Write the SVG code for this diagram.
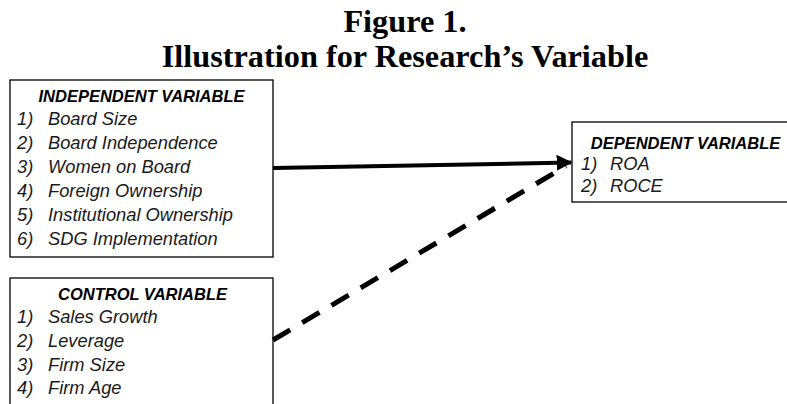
<svg xmlns="http://www.w3.org/2000/svg" width="787" height="404" viewBox="0 0 787 404">
<style>
.title{font-family:"Liberation Serif","Times New Roman",serif;font-weight:bold;font-size:32.3px;fill:#000;text-anchor:middle}
.box{fill:#fff;stroke:#000;stroke-width:1.3}
.hdr{font-family:"Liberation Sans",Arial,sans-serif;font-style:italic;font-weight:bold;font-size:16.5px;fill:#000;text-anchor:middle}
.item{font-family:"Liberation Sans",Arial,sans-serif;font-style:italic;font-size:18.3px;fill:#1a1a1a}
.conn{stroke:#000;fill:none}
</style>
<defs>
<marker id="ah" viewBox="0 0 10 10" refX="9" refY="5" markerWidth="4" markerHeight="4" orient="auto" markerUnits="strokeWidth">
<path d="M0,0 L10,5 L0,10 z" fill="#000"/>
</marker>
</defs>
<text class="title" x="405" y="32">Figure 1.</text>
<text class="title" x="405" y="67">Illustration for Research’s Variable</text>

<g id="independent">
<rect class="box" x="10" y="80" width="263" height="177"/>
<text class="hdr" x="141.5" y="102">INDEPENDENT VARIABLE</text>
<text class="item" x="17" y="125">1)</text><text class="item" x="48" y="125">Board Size</text>
<text class="item" x="17" y="149">2)</text><text class="item" x="48" y="149">Board Independence</text>
<text class="item" x="17" y="173">3)</text><text class="item" x="48" y="173">Women on Board</text>
<text class="item" x="17" y="197">4)</text><text class="item" x="48" y="197">Foreign Ownership</text>
<text class="item" x="17" y="221">5)</text><text class="item" x="48" y="221">Institutional Ownership</text>
<text class="item" x="17" y="245">6)</text><text class="item" x="48" y="245">SDG Implementation</text>
</g>

<g id="control">
<rect class="box" x="10" y="278" width="263" height="140"/>
<text class="hdr" x="142.5" y="300">CONTROL VARIABLE</text>
<text class="item" x="17" y="323">1)</text><text class="item" x="48" y="323">Sales Growth</text>
<text class="item" x="17" y="347">2)</text><text class="item" x="48" y="347">Leverage</text>
<text class="item" x="17" y="371">3)</text><text class="item" x="48" y="371">Firm Size</text>
<text class="item" x="17" y="394">4)</text><text class="item" x="48" y="394">Firm Age</text>
</g>

<g id="dependent">
<rect class="box" x="572" y="122" width="228" height="80"/>
<text class="hdr" x="685.5" y="149">DEPENDENT VARIABLE</text>
<text class="item" x="581" y="170">1)</text><text class="item" x="610" y="170">ROA</text>
<text class="item" x="581" y="192">2)</text><text class="item" x="610" y="192">ROCE</text>
</g>

<g id="connectors">
<line class="conn" x1="273" y1="168" x2="571" y2="162.5" stroke-width="4" marker-end="url(#ah)"/>
<line class="conn" x1="273" y1="340" x2="566" y2="166" stroke-width="5" stroke-dasharray="20 14"/>
</g>
</svg>
